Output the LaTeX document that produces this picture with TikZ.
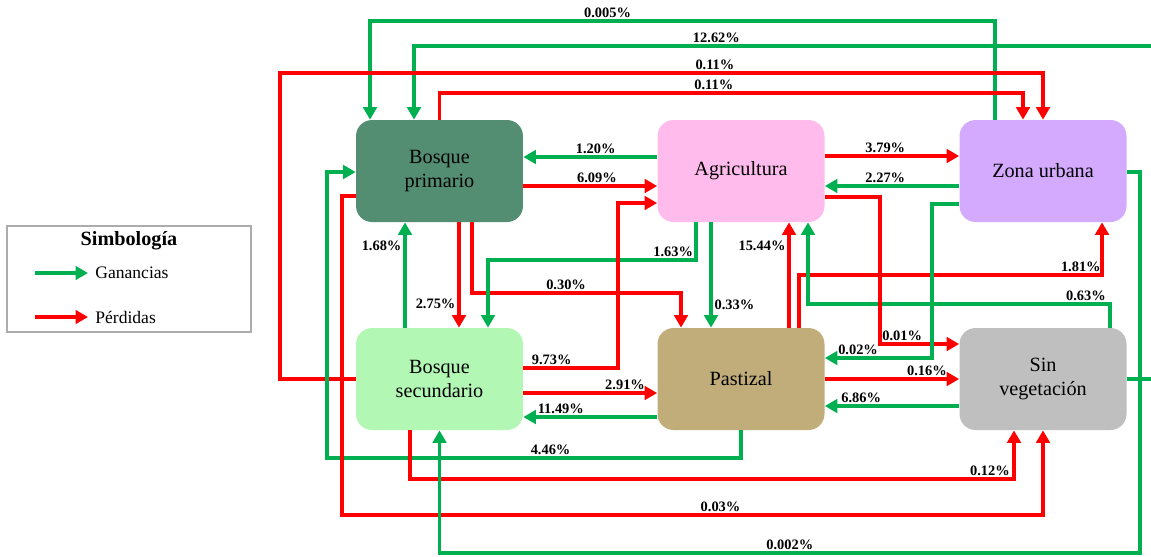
\documentclass[tikz,border=0pt]{standalone}
\usepackage{fontspec}
\setmainfont{Liberation Serif}
\usetikzlibrary{arrows.meta}

\definecolor{gaingreen}{RGB}{0,176,80}
\definecolor{lossred}{RGB}{255,0,0}
\definecolor{primcol}{RGB}{84,142,114}
\definecolor{agricol}{RGB}{255,187,236}
\definecolor{urbcol}{RGB}{212,170,255}
\definecolor{seccol}{RGB}{179,247,181}
\definecolor{pastcol}{RGB}{192,173,122}
\definecolor{barecol}{RGB}{191,191,191}

\begin{document}
\begin{tikzpicture}[x=0.02cm, y=-0.02cm,
    cover/.style={rounded corners=0.32cm, align=center, minimum width=3.34cm, minimum height=2.04cm, inner sep=0pt, font=\fontsize{11.5}{14}\selectfont},
    gain/.style={draw=gaingreen, line width=2.1pt, -{Triangle[length=2.5mm, width=2.7mm]}},
    loss/.style={draw=lossred, line width=2.1pt, -{Triangle[length=2.5mm, width=2.7mm]}},
    pct/.style={font=\bfseries\fontsize{8.2}{9}\selectfont, inner sep=1pt},
    legtext/.style={anchor=west, inner xsep=0.14cm, inner ysep=0pt, font=\fontsize{10}{12}\selectfont}
]
    \useasboundingbox (0,0) rectangle (1151,556);
    \clip (0,0) rectangle (1151,556);

    \node[cover, fill=primcol] (bprim) at (439.5,171) {Bosque\\primario};
    \node[cover, fill=agricol] (agri) at (741,171) {Agricultura};
    \node[cover, fill=urbcol] (urbana) at (1043,171) {Zona urbana};
    \node[cover, fill=seccol] (bsec) at (439.5,379) {Bosque\\secundario};
    \node[cover, fill=pastcol] (pasto) at (741,379) {Pastizal};
    \node[cover, fill=barecol] (sinveg) at (1043,379) {Sin\\vegetación};

    % long loops over the top
    \draw[gain] (urbana.north -| 995,0) -- (995,21) -- node[pct, above, pos=0.62] {0.005\%} (370,21) -- (bprim.north -| 370,0);
    \draw[gain] (sinveg.east) -- (1170,379) -- (1170,46) -- node[pct, above, pos=0.6] {12.62\%} (414,46) -- (bprim.north -| 414,0);
    \draw[loss] (bsec.west) -- (280,379) -- (280,73) -- node[pct, above, pos=0.57] {0.11\%} (1043,73) -- (urbana.north);
    \draw[loss] (bprim.north) -- (439.5,93) -- node[pct, above, pos=0.47] {0.11\%} (1023,93) -- (urbana.north -| 1023,0);

    % upper row
    \draw[gain] (agri.west |- 0,157) -- node[pct, above, pos=0.46] {1.20\%} (bprim.east |- 0,157);
    \draw[loss] (bprim.east |- 0,186) -- node[pct, above, pos=0.55] {6.09\%} (agri.west |- 0,186);
    \draw[loss] (agri.east |- 0,156) -- node[pct, above, pos=0.45] {3.79\%} (urbana.west |- 0,156);
    \draw[gain] (urbana.west |- 0,186) -- node[pct, above, pos=0.55] {2.27\%} (agri.east |- 0,186);

    % left side and bottom loops
    \draw[gain] (pasto.south) -- (741,458) -- node[pct, above, pos=0.46] {4.46\%} (327,458) -- (327,172) -- (bprim.west |- 0,172);
    \draw[loss] (bprim.west |- 0,196) -- (342,196) -- (342,515) -- node[pct, above, pos=0.54] {0.03\%} (1043,515) -- (sinveg.south);
    \draw[loss] (bsec.south -| 410,0) -- (410,479) -- node[pct, above, pos=0.96] {0.12\%} (1014,479) -- (sinveg.south -| 1014,0);
    \draw[gain] (urbana.east |- 0,172) -- (1140,172) -- (1140,553) -- node[pct, above, pos=0.5] {0.002\%} (439.5,553) -- (bsec.south);

    % between the rows
    \draw[gain] (bsec.north -| 405,0) -- node[pct, left, pos=0.78] {1.68\%} (bprim.south -| 405,0);
    \draw[loss] (bprim.south -| 459,0) -- node[pct, left, pos=0.77] {2.75\%} (bsec.north -| 459,0);
    \draw[loss] (bprim.south -| 472,0) -- (472,293) -- node[pct, above, pos=0.45] {0.30\%} (681,293) -- (pasto.north -| 681,0);
    \draw[gain] (agri.south -| 696,0) -- (696,260) -- node[pct, above, pos=0.11] {1.63\%} (488,260) -- (bsec.north -| 488,0);
    \draw[loss] (bsec.east |- 0,368) -- node[pct, above, pos=0.3] {9.73\%} (618,368) -- (618,203) -- (agri.west |- 0,203);
    \draw[gain] (agri.south -| 711,0) -- node[pct, right, pos=0.78] {0.33\%} (pasto.north -| 711,0);
    \draw[loss] (pasto.north -| 789,0) -- node[pct, left, pos=0.78] {15.44\%} (agri.south -| 789,0);
    \draw[loss] (pasto.north -| 799,0) -- (799,275) -- node[pct, above, pos=0.93] {1.81\%} (1102,275) -- (urbana.south -| 1102,0);
    \draw[gain] (sinveg.north -| 1110,0) -- (1110,304) -- node[pct, above, pos=0.08] {0.63\%} (808,304) -- (agri.south -| 808,0);
    \draw[loss] (agri.east |- 0,197) -- (880,197) -- (880,344) -- node[pct, above, pos=0.28] {0.01\%} (sinveg.west |- 0,344);
    \draw[gain] (urbana.west |- 0,204) -- (932,204) -- (932,358) -- node[pct, above, pos=0.69] {0.02\%} (pasto.east |- 0,358);

    % lower row
    \draw[loss] (pasto.east) -- node[pct, above, pos=0.76] {0.16\%} (sinveg.west);
    \draw[gain] (sinveg.west |- 0,406) -- node[pct, above, pos=0.73] {6.86\%} (pasto.east |- 0,406);
    \draw[loss] (bsec.east |- 0,393) -- node[pct, above, pos=0.76] {2.91\%} (pasto.west |- 0,393);
    \draw[gain] (pasto.west |- 0,417) -- node[pct, above, pos=0.72] {11.49\%} (bsec.east |- 0,417);

    % legend
    \node[draw=gray!65, line width=0.8pt, minimum width=4.88cm, minimum height=2.12cm] (legend) at (129,279) {};
    \node[font=\bfseries\fontsize{11.5}{13}\selectfont] (legtitle) at (129,241) {Simbología};
    \node[legtext] (leggain) at (88,273) {Ganancias};
    \node[legtext] (legloss) at (88,317) {Pérdidas};
    \coordinate (gainstart) at (35,273);
    \coordinate (lossstart) at (35,317);
    \draw[gain] (gainstart) -- (leggain);
    \draw[loss] (lossstart) -- (legloss);
\end{tikzpicture}
\end{document}
